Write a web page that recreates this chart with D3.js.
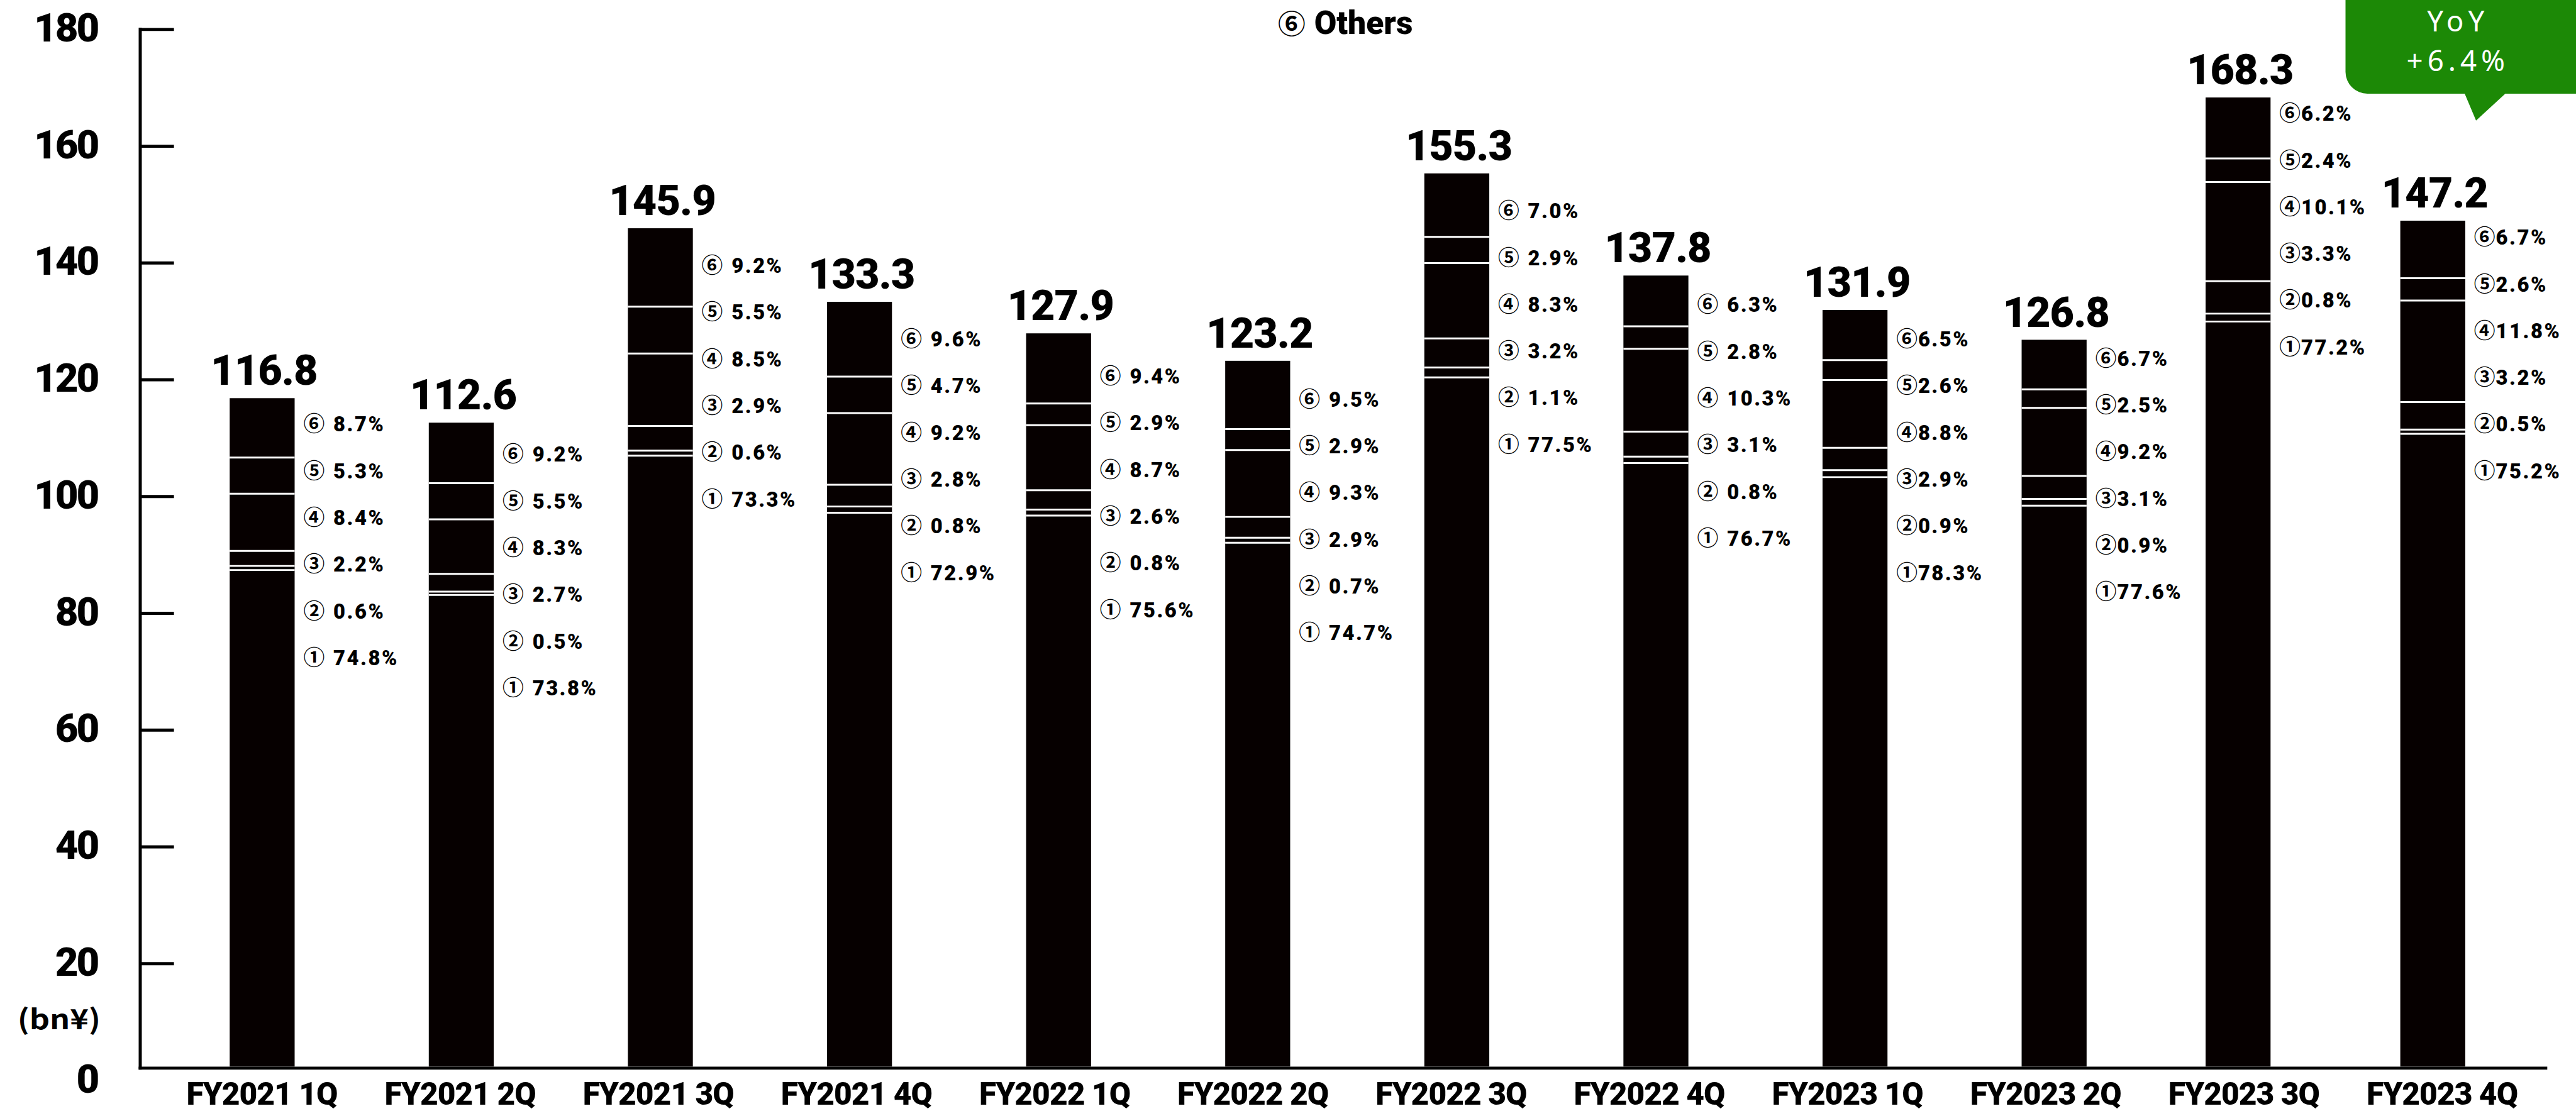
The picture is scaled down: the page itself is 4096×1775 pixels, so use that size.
<!DOCTYPE html>
<html>
<head>
<meta charset="utf-8">
<script src="https://cdn.jsdelivr.net/npm/d3@7"></script>
<style>
  html, body { margin: 0; padding: 0; background: #fff; overflow: hidden; }
  svg { display: block; }
</style>
</head>
<body>
<svg id="chart" width="4096" height="1775"></svg>
<script>
// ---------------- data ----------------
const categories = ["FY2021 1Q","FY2021 2Q","FY2021 3Q","FY2021 4Q","FY2022 1Q","FY2022 2Q",
                    "FY2022 3Q","FY2022 4Q","FY2023 1Q","FY2023 2Q","FY2023 3Q","FY2023 4Q"];
const totals  = [116.8,112.6,145.9,133.3,127.9,123.2,155.3,137.8,131.9,126.8,168.3,147.2];
const share1  = [74.8,73.8,73.3,72.9,75.6,74.7,77.5,76.7,78.3,77.6,77.2,75.2];
const share2  = [0.6,0.5,0.6,0.8,0.8,0.7,1.1,0.8,0.9,0.9,0.8,0.5];
const share3  = [2.2,2.7,2.9,2.8,2.6,2.9,3.2,3.1,2.9,3.1,3.3,3.2];
const share4  = [8.4,8.3,8.5,9.2,8.7,9.3,8.3,10.3,8.8,9.2,10.1,11.8];
const share5  = [5.3,5.5,5.5,4.7,2.9,2.9,2.9,2.8,2.6,2.5,2.4,2.6];
const share6  = [8.7,9.2,9.2,9.6,9.4,9.5,7.0,6.3,6.5,6.7,6.2,6.7];
const segmentMarks = ["①","②","③","④","⑤","⑥"];
const yTicks = [0,20,40,60,80,100,120,140,160,180];
const unitLabel = "(bn¥)";
const legendText = "Others";
const yoyLines = ["YoY","+6.4%"];

// ---------------- layout (reference pixel space) ----------------
const S = 4096 / 4124;
const svg = d3.select("#chart");
const g = svg.append("g").attr("transform", `scale(${S})`);

const baseY = 1708;                 // top edge of x-axis line
const y = d3.scaleLinear().domain([0, 180]).range([1729.7, 46.7]);
// bar centres (last two bars are set slightly tighter in the original)
const xIdx = d3.scaleLinear().domain([0, 9, 10, 11]).range([419.7, 3288.5, 3583, 3894.7]);
const xBar = d3.scaleOrdinal().domain(categories).range(categories.map((c, i) => xIdx(i)));
const xLab = d3.scalePoint().domain(categories).range([418.7, 3909]);
const barW = 104;
// vertical offset (px) from bar top to first percentage row, per bar
const pctDy = [42, 51, 60, 60, 69, 62, 60.5, 47, 47, 30, 26, 27];
const rowGap = 74.8;

const keys = ["s1","s2","s3","s4","s5","s6"];
const shares = [share1, share2, share3, share4, share5, share6];
const rows = categories.map((c, i) => {
  const r = { cat: c, i };
  keys.forEach((k, j) => r[k] = totals[i] * shares[j][i] / 100);
  return r;
});
const stacked = d3.stack().keys(keys)(rows);

const BLACK = "#060000";
const numFont = "Roboto, 'Noto Sans', sans-serif";
const cjk = "'Noto Sans CJK JP', 'Noto Sans', sans-serif";

// ---- bars ----
const segG = g.append("g");
stacked.forEach((layer) => {
  segG.selectAll(null).data(layer).enter().append("rect")
    .attr("x", d => xBar(d.data.cat) - barW / 2)
    .attr("width", barW)
    .attr("y", d => y(d[1]))
    .attr("height", d => Math.max(0, Math.min(y(d[0]), baseY) - y(d[1])))
    .attr("fill", BLACK);
});
// white separators between segments
stacked.slice(0, 5).forEach((layer) => {
  segG.selectAll(null).data(layer).enter().append("line")
    .attr("x1", d => xBar(d.data.cat) - barW / 2)
    .attr("x2", d => xBar(d.data.cat) + barW / 2)
    .attr("y1", d => y(d[1])).attr("y2", d => y(d[1]))
    .attr("stroke", "#fff").attr("stroke-width", 3);
});

// ---- axes ----
const yAxis = d3.axisLeft(y).tickValues(yTicks).tickSize(-54).tickPadding(68)
  .tickFormat(d3.format("d"));
const ya = g.append("g").attr("transform", "translate(224.5,0)").call(yAxis);
ya.select(".domain").remove();
ya.selectAll(".tick line").attr("stroke", "#000").attr("stroke-width", 5)
  .attr("display", d => d === 0 ? "none" : null);
ya.selectAll(".tick text").attr("font-family", numFont).attr("font-weight", 900)
  .attr("font-size", 64).attr("letter-spacing", -3).attr("fill", "#000").attr("dy", "0.3em");
g.append("line").attr("x1", 224.5).attr("x2", 224.5).attr("y1", y(180) - 2.5).attr("y2", 1713)
  .attr("stroke", "#000").attr("stroke-width", 5);
g.append("line").attr("x1", 222).attr("x2", 4078).attr("y1", 1710.5).attr("y2", 1710.5)
  .attr("stroke", "#000").attr("stroke-width", 5);

const xAxis = d3.axisBottom(xLab).tickSize(0).tickPadding(0);
const xa = g.append("g").attr("transform", "translate(0,1769)").call(xAxis);
xa.select(".domain").remove();
xa.selectAll(".tick text").attr("font-family", numFont).attr("font-weight", 900)
  .attr("font-size", 50).attr("letter-spacing", -1).attr("fill", "#000").attr("dy", 0).attr("y", 0);

g.append("text").attr("x", 94.5).attr("y", 1648).attr("text-anchor", "middle")
  .attr("font-family", cjk).attr("font-weight", 700).attr("font-size", 44)
  .attr("textLength", 133).attr("lengthAdjust", "spacingAndGlyphs")
  .text(unitLabel);

// ---- totals ----
g.append("g").selectAll("text").data(rows).enter().append("text")
  .attr("x", d => xBar(d.cat) + 3).attr("y", d => y(totals[d.i]) - 21)
  .attr("text-anchor", "middle").attr("font-family", numFont).attr("font-weight", 900)
  .attr("font-size", 67).attr("letter-spacing", -1).attr("fill", "#000")
  .text(d => totals[d.i].toFixed(1));

// ---- percentage labels ----
const pctG = g.append("g");
rows.forEach((r) => {
  const compact = r.cat.startsWith("FY2023");
  for (let j = 5; j >= 0; j--) {
    const row = 5 - j;
    const cy = y(totals[r.i]) + pctDy[r.i] + row * rowGap;
    const t = pctG.append("text")
      .attr("x", xBar(r.cat) + barW / 2 + 14)
      .attr("y", cy + 11.5)
      .attr("fill", "#000");
    t.append("tspan").attr("font-family", cjk).attr("font-size", 34).attr("font-weight", 700)
      .text(segmentMarks[j]);
    t.append("tspan").attr("font-family", numFont).attr("font-weight", 900).attr("font-size", 33)
      .attr("letter-spacing", 2.5)
      .attr("dx", compact ? 1 : 14)
      .text(shares[j][r.i].toFixed(1) + "%");
  }
});

// ---- legend text at top ----
const lg = g.append("text").attr("x", 2046).attr("y", 54).attr("fill", "#000");
lg.append("tspan").attr("font-family", cjk).attr("font-size", 44).attr("font-weight", 700).text(segmentMarks[5]);
lg.append("tspan").attr("font-family", numFont).attr("font-weight", 900).attr("font-size", 52)
  .attr("dx", 14).text(legendText);

// ---- YoY bubble ----
const GREEN = "#1c8906";
g.append("rect").attr("x", 3755).attr("y", -80).attr("width", 420).attr("height", 230)
  .attr("rx", 35).attr("ry", 35).attr("fill", GREEN);
g.append("path").attr("d", "M3945,148 L4013,148 L3964,193 Z").attr("fill", GREEN);
g.append("g").selectAll("text").data(yoyLines).enter().append("text")
  .attr("x", 3935).attr("y", (d, i) => 50 + i * 64)
  .attr("text-anchor", "middle").attr("font-family", "'Noto Sans', sans-serif")
  .attr("font-size", 46).attr("letter-spacing", 7).attr("fill", "#fff").text(d => d);
</script>
</body>
</html>
